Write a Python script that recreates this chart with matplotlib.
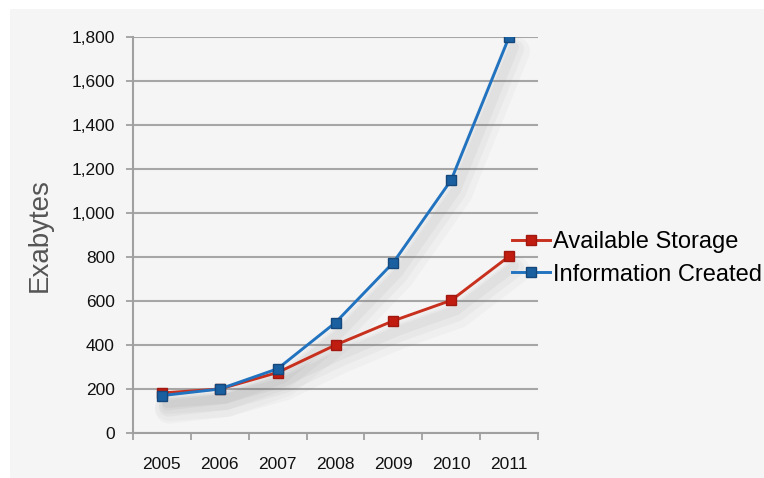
import matplotlib
matplotlib.use("Agg")
import matplotlib.pyplot as plt
import matplotlib.transforms as mtransforms
from matplotlib.patches import Rectangle

plt.rcParams['font.family'] = ['Liberation Sans', 'DejaVu Sans']

years = ["2005", "2006", "2007", "2008", "2009", "2010", "2011"]
available_storage = [182, 200, 275, 400, 510, 603, 803]
information_created = [170, 200, 292, 502, 775, 1150, 1800]
y_ticks = [0, 200, 400, 600, 800, 1000, 1200, 1400, 1600, 1800]
y_tick_labels = ["0", "200", "400", "600", "800", "1,000", "1,200", "1,400", "1,600", "1,800"]

fig = plt.figure(figsize=(7.64, 4.78), dpi=100)
fig.patch.set_facecolor('white')
fig.patches.append(Rectangle((10 / 764, 0), 1, 1 - 9 / 478, transform=fig.transFigure,
                             facecolor='#f5f5f5', edgecolor='none', zorder=-10))

ax = fig.add_axes([133 / 764, 1 - 433 / 478, (538 - 133) / 764, (433 - 37) / 478])
ax.set_facecolor('none')

x = list(range(len(years)))

# soft shadows
for series in (available_storage, information_created):
    for dx, dy, a, lw in [(7, -14, 0.04, 20), (6, -12, 0.05, 13), (5, -10, 0.06, 7)]:
        tr = mtransforms.offset_copy(ax.transData, fig=fig, x=dx, y=dy, units='dots')
        ax.plot(x, series, color='#707070', alpha=a, lw=lw, transform=tr,
                solid_capstyle='round', zorder=1)

ax.plot(x, available_storage, color='#c8301e', lw=2.1, marker='s', markersize=7.5,
        markerfacecolor='#c01c10', markeredgecolor='#a01810', label='Available Storage', zorder=3)
ax.plot(x, information_created, color='#2173c0', lw=2.1, marker='s', markersize=7.5,
        markerfacecolor='#1a5fa0', markeredgecolor='#15477a', label='Information Created', zorder=4)

ax.set_xlim(-0.5, len(years) - 0.5)
ax.set_ylim(0, 1800)
ax.set_yticks(y_ticks)
ax.set_yticklabels(y_tick_labels)
ax.set_xticks(x)
ax.set_xticklabels(years)
ax.set_xticks([i - 0.5 for i in range(len(years) + 1)], minor=True)
ax.tick_params(axis='x', which='major', length=0, pad=17, labelsize=12.5, labelcolor='#111111')
ax.tick_params(axis='x', which='minor', length=5, width=1.2, color='#999999', direction='out')
ax.tick_params(axis='y', length=5, width=1.2, color='#999999', pad=8, labelsize=12.5,
               labelcolor='#111111')

ax.grid(axis='y', color='#a6a6a6', lw=1.5, zorder=0)
ax.set_axisbelow(True)
for s in ('top', 'right'):
    ax.spines[s].set_visible(False)
for s in ('left', 'bottom'):
    ax.spines[s].set_color('#a0a0a0')
    ax.spines[s].set_linewidth(1.5)

fig.text(40 / 764, 1 - 235 / 478, 'Exabytes', rotation=90, ha='center', va='center',
         fontsize=20, color='#555555')

leg = fig.legend(loc='upper left', bbox_to_anchor=(512 / 764, 1 - 231 / 478), frameon=False,
                 fontsize=17, handlelength=1.6, handletextpad=0.15, labelspacing=0.45,
                 borderpad=0, borderaxespad=0)

fig.savefig('out.png', dpi=100, facecolor=fig.get_facecolor())
